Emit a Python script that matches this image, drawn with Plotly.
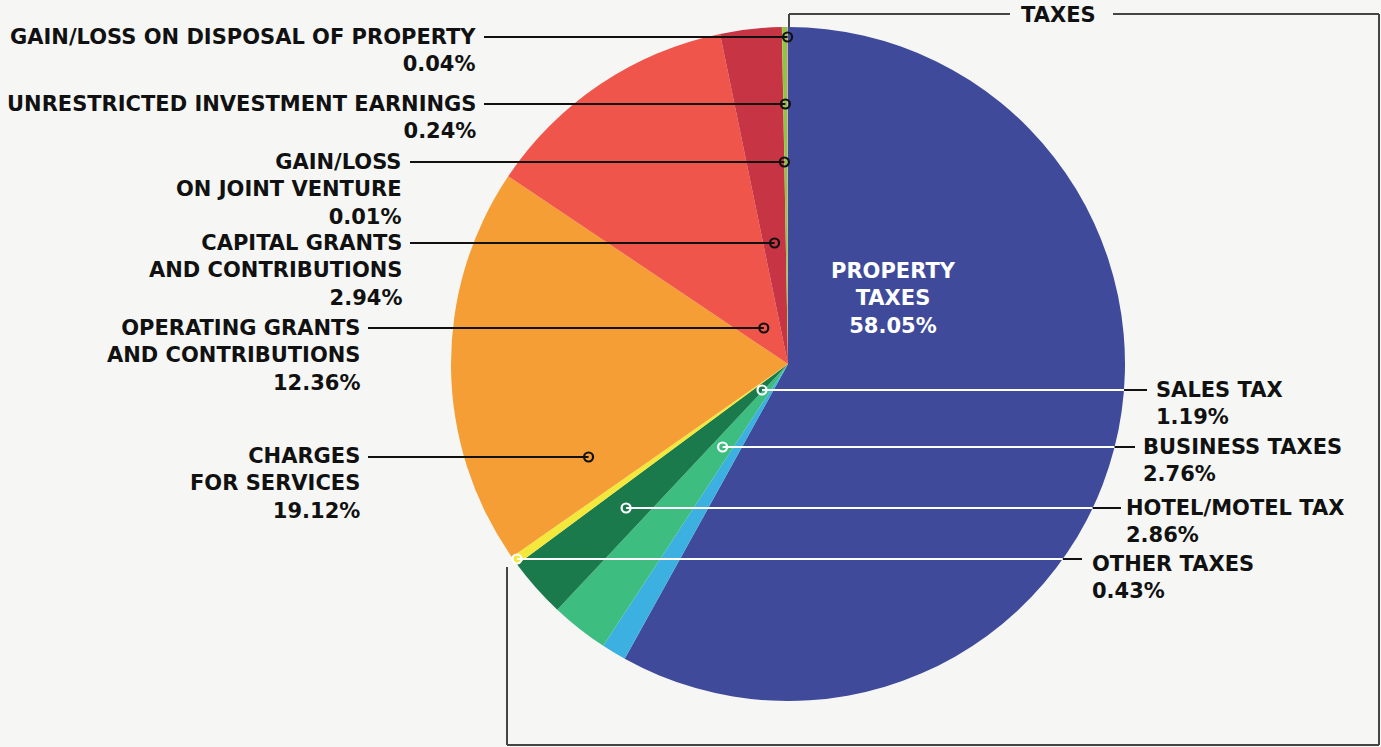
import math
import plotly.graph_objects as go

# ---------------- data ----------------
categories = [
    "PROPERTY TAXES", "SALES TAX", "BUSINESS TAXES", "HOTEL/MOTEL TAX", "OTHER TAXES",
    "CHARGES FOR SERVICES", "OPERATING GRANTS AND CONTRIBUTIONS",
    "CAPITAL GRANTS AND CONTRIBUTIONS", "GAIN/LOSS ON JOINT VENTURE",
    "UNRESTRICTED INVESTMENT EARNINGS", "GAIN/LOSS ON DISPOSAL OF PROPERTY",
]
values = [58.05, 1.19, 2.76, 2.86, 0.43, 19.12, 12.36, 2.94, 0.01, 0.24, 0.04]
label_lines = [
    ["PROPERTY", "TAXES"],
    ["SALES TAX"],
    ["BUSINESS TAXES"],
    ["HOTEL/MOTEL TAX"],
    ["OTHER TAXES"],
    ["CHARGES", "FOR SERVICES"],
    ["OPERATING GRANTS", "AND CONTRIBUTIONS"],
    ["CAPITAL GRANTS", "AND CONTRIBUTIONS"],
    ["GAIN/LOSS", "ON JOINT VENTURE"],
    ["UNRESTRICTED INVESTMENT EARNINGS"],
    ["GAIN/LOSS ON DISPOSAL OF PROPERTY"],
]
group_label = "TAXES"

# ---------------- style / layout ----------------
colors = ["#3F4B9A", "#3BB0E1", "#3DBE80", "#1A7A4B", "#F5E83C", "#F59E35",
          "#F0554B", "#C73443", "#B5A24A", "#8DC63F", "#E689BF"]
BG = "#F6F7F5"
W, H = 1381, 747
CX, CY, R = 788, 364, 337
FONT = "DejaVu Sans"
FS = 21
LH = 27

# per-label placement: side, text anchor x, first-line y, line end x, optional dot angle
placement = {
    1: dict(side="r", tx=1156, y=390, lx=1147, ang=225),
    2: dict(side="r", tx=1143, y=447, lx=1135),
    3: dict(side="r", tx=1126, y=508, lx=1121),
    4: dict(side="r", tx=1092, y=559, lx=1082, ty=564),
    5: dict(side="l", tx=360, y=457, lx=368, ang=245),
    6: dict(side="l", tx=360, y=328, lx=368),
    7: dict(side="l", tx=402, y=243, lx=410),
    8: dict(side="l", tx=402, y=162, lx=410),
    9: dict(side="l", tx=476, y=104, lx=484),
    10: dict(side="l", tx=476, y=37, lx=484),
}


def px(x):
    return x / W


def py(y):
    return 1 - y / H


fig = go.Figure()
fig.add_trace(go.Pie(
    labels=categories, values=values, sort=False, direction="clockwise", rotation=0,
    marker=dict(colors=colors, line=dict(width=0)), textinfo="none", hoverinfo="none",
    showlegend=False,
    domain=dict(x=[px(CX - R), px(CX + R)], y=[py(CY + R), py(CY - R)]),
))

shapes, annotations = [], []
total = sum(values)
cum = 0.0
mid_angles = []
for v in values:
    mid_angles.append((cum + v / 2) / total * 360.0)
    cum += v


def pct(v):
    return f"{v:.2f}%"


for i, p in placement.items():
    ang = math.radians(p.get("ang", mid_angles[i]))
    y = p["y"]
    dot_x = CX + (CY - y) * math.tan(ang) if abs(math.cos(ang)) > 1e-6 else CX
    lines = label_lines[i] + [pct(values[i])]
    n = len(lines)
    ty = p.get("ty", y)
    text = "<br>".join(f"<b>{s}</b>" for s in lines)
    if p["side"] == "l":
        shapes.append(dict(type="line", xref="paper", yref="paper",
                           x0=px(p["lx"]), y0=py(y), x1=px(dot_x), y1=py(y),
                           line=dict(color="#111111", width=2)))
        ring = "#111111"
        annotations.append(dict(x=px(p["tx"]), y=py(ty + (n - 1) * LH / 2), xref="paper", yref="paper",
                                text=text, showarrow=False, xanchor="right", yanchor="middle",
                                align="right", borderpad=0, borderwidth=0,
                                font=dict(family=FONT, size=FS, color="#111111")))
    else:
        edge_x = CX + math.sqrt(R * R - (y - CY) ** 2)
        shapes.append(dict(type="line", xref="paper", yref="paper",
                           x0=px(dot_x), y0=py(y), x1=px(edge_x), y1=py(y),
                           line=dict(color="#FFFFFF", width=2)))
        shapes.append(dict(type="line", xref="paper", yref="paper",
                           x0=px(edge_x), y0=py(y), x1=px(p["lx"]), y1=py(y),
                           line=dict(color="#111111", width=2)))
        ring = "#FFFFFF"
        annotations.append(dict(x=px(p["tx"]), y=py(ty + (n - 1) * LH / 2), xref="paper", yref="paper",
                                text=text, showarrow=False, xanchor="left", yanchor="middle",
                                align="left", borderpad=0, borderwidth=0,
                                font=dict(family=FONT, size=FS, color="#111111")))
    rr = 4.5
    shapes.append(dict(type="circle", xref="paper", yref="paper",
                       x0=px(dot_x - rr), x1=px(dot_x + rr), y0=py(y + rr), y1=py(y - rr),
                       line=dict(color=ring, width=2.2), fillcolor="rgba(0,0,0,0)"))

# label inside the big slice
annotations.append(dict(x=px(893), y=py(298),
                        xref="paper", yref="paper", showarrow=False, xanchor="center", yanchor="middle",
                        align="center", borderpad=0, borderwidth=0,
                        text="<br>".join(f"<b>{s}</b>" for s in label_lines[0] + [pct(values[0])]),
                        font=dict(family=FONT, size=FS, color="#FFFFFF")))

# TAXES bracket
BR = "#454545"
for (x0, y0, x1, y1) in [(789, 27, 789, 14), (789, 14, 1010, 14), (1113, 14, 1379, 14),
                         (1379, 14, 1379, 745), (1379, 745, 507, 745), (507, 745, 507, 567)]:
    shapes.append(dict(type="line", xref="paper", yref="paper",
                       x0=px(x0), y0=py(y0), x1=px(x1), y1=py(y1),
                       line=dict(color=BR, width=2)))
annotations.append(dict(x=px(1058), y=py(15), xref="paper", yref="paper", showarrow=False,
                        xanchor="center", yanchor="middle", borderpad=0, borderwidth=0,
                        text=f"<b>{group_label}</b>",
                        font=dict(family=FONT, size=FS, color="#111111")))

fig.update_layout(
    width=W, height=H, margin=dict(l=0, r=0, t=0, b=0),
    paper_bgcolor=BG, plot_bgcolor=BG,
    shapes=shapes, annotations=annotations,
)
fig.write_html("out.html", config={"displayModeBar": False},
               post_script="document.body.style.margin='0';")
